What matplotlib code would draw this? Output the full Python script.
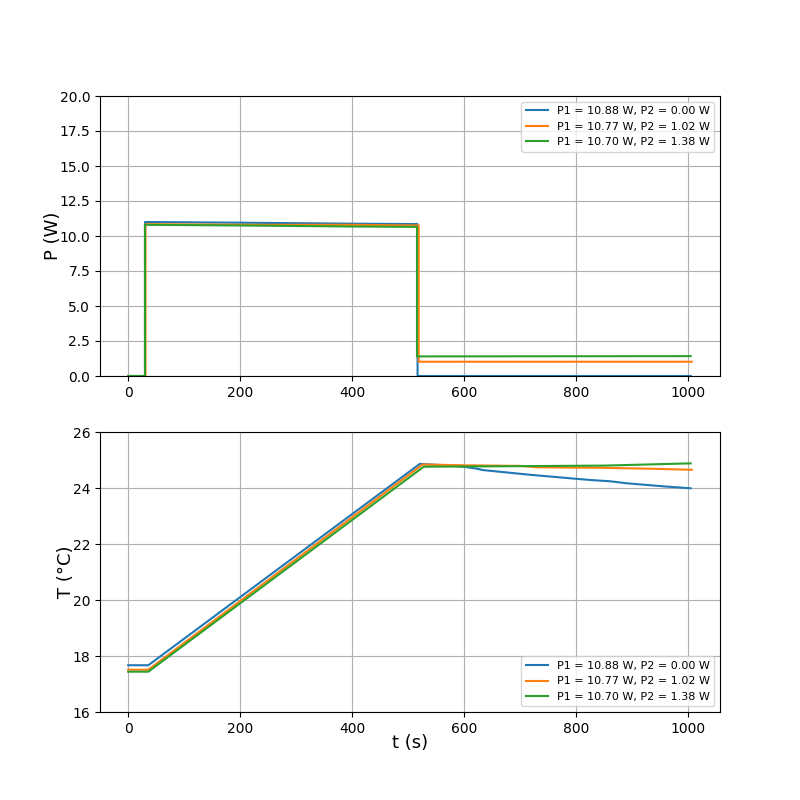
import matplotlib
matplotlib.use("Agg")
import matplotlib.pyplot as plt

labels = ["P1 = 10.88 W, P2 = 0.00 W",
          "P1 = 10.77 W, P2 = 1.02 W",
          "P1 = 10.70 W, P2 = 1.38 W"]
colors = ["#1f77b4", "#ff7f0e", "#2ca02c"]

# Power key points (t in s, P in W)
p_t1 = [0, 30, 30, 200, 400, 517, 517, 1005]
p_v1 = [0.0, 0.0, 11.0, 10.95, 10.88, 10.85, 0.0, 0.0]
p_t2 = [0, 31, 31, 200, 400, 519, 519, 1007]
p_v2 = [0.0, 0.0, 10.85, 10.8, 10.8, 10.75, 1.02, 1.02]
p_t3 = [0, 30, 30, 200, 400, 516, 516, 1005]
p_v3 = [0.0, 0.0, 10.8, 10.75, 10.68, 10.65, 1.40, 1.42]

# Temperature key points (t in s, T in °C)
T_t1 = [0, 36, 521, 560, 599, 620, 634, 664, 694, 724, 760, 799, 830, 861,
        890, 926, 962, 1005]
T_v1 = [17.67, 17.67, 24.86, 24.82, 24.76, 24.70, 24.64, 24.58, 24.52, 24.46,
        24.40, 24.33, 24.28, 24.24, 24.17, 24.11, 24.05, 23.99]
T_t2 = [0, 36, 526, 600, 700, 730, 850, 930, 1007]
T_v2 = [17.51, 17.51, 24.84, 24.81, 24.79, 24.74, 24.72, 24.69, 24.65]
T_t3 = [0, 36, 528, 700, 850, 1005]
T_v3 = [17.44, 17.44, 24.76, 24.78, 24.80, 24.88]

fig, (ax1, ax2) = plt.subplots(2, 1, figsize=(8, 8), dpi=100)

for t, v, lab, c in zip([p_t1, p_t2, p_t3], [p_v1, p_v2, p_v3], labels, colors):
    ax1.plot(t, v, color=c, label=lab)
ax1.set_ylim(0, 20)
ax1.set_ylabel("P (W)", fontsize=13, labelpad=-1.5)
ax1.grid(True)
ax1.legend(loc="upper right", fontsize=8)

for t, v, lab, c in zip([T_t1, T_t2, T_t3], [T_v1, T_v2, T_v3], labels, colors):
    ax2.plot(t, v, color=c, label=lab)
ax2.set_ylim(16, 26)
ax2.set_ylabel("T (°C)", fontsize=13, labelpad=-1.5)
ax2.set_xlabel("t (s)", fontsize=13, labelpad=-1.5)
ax2.grid(True)
ax2.legend(loc="lower right", fontsize=8)

fig.savefig("out.png")
